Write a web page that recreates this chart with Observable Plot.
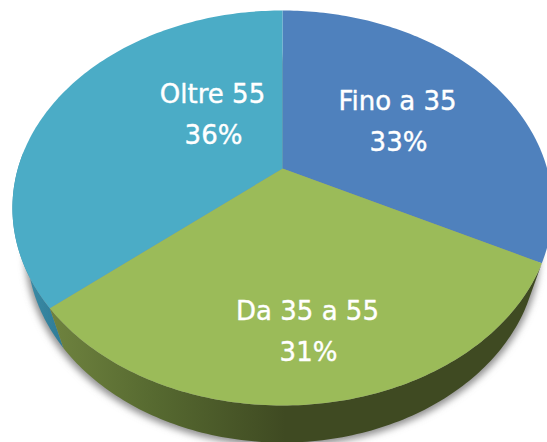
<!DOCTYPE html>
<html>
<head>
<meta charset="utf-8">
<style>html,body{margin:0;padding:0;background:#fff}svg{display:block}</style>
<script src="https://cdn.jsdelivr.net/npm/d3@7"></script>
<script src="https://cdn.jsdelivr.net/npm/@observablehq/plot@0.6"></script>
</head>
<body>
<div id="chart"></div>
<script>
const categories = ["Fino a 35", "Da 35 a 55", "Oltre 55"];
const shares = [32.5, 31.4, 36.1];
const shareLabels = ["33%", "31%", "36%"];
const colors = ["#4f81bd", "#9bbb59", "#4bacc6"];

// Perspective view of the tilted disc
const view = {cx: 282, cy: 168, a: 264.6, b: 189.6, k: 0.2, baseW: 0.0546, baseH: 44.6};
function project(deg, base = false) {
  const t = deg * Math.PI / 180, u = Math.sin(t), v = Math.cos(t);
  const w = 1 + view.k * v + (base ? view.baseW : 0);
  return {
    x: view.cx + view.a * u / w,
    y: view.cy + (-view.b * v + (base ? view.baseH : 0)) / w
  };
}
const arc = (a0, a1, base) => d3.range(0, 121).map(i => project(a0 + (a1 - a0) * i / 120, base));

const total = d3.sum(shares);
let acc = 0;
const slices = categories.map((category, i) => {
  const a0 = acc / total * 360; acc += shares[i];
  return {category, a0, a1: acc / total * 360};
});
const top3d = slices.flatMap(s => [{x: view.cx, y: view.cy}, ...arc(s.a0, s.a1, false)].map(p => ({...p, category: s.category})));
const wall = (a0, a1) => [...arc(a0, a1, false), ...arc(a1, a0, true)];
const green = slices[1], teal = slices[2];
const base = arc(0, 360, true);

const defs = () => {
  const d = d3.create("svg:defs");
  const g1 = d.append("linearGradient").attr("id", "wallGreen").attr("gradientUnits", "userSpaceOnUse")
    .attr("x1", 50).attr("x2", 285).attr("y1", 0).attr("y2", 0);
  g1.append("stop").attr("offset", 0).attr("stop-color", "#6f833f");
  g1.append("stop").attr("offset", 0.45).attr("stop-color", "#566930");
  g1.append("stop").attr("offset", 1).attr("stop-color", "#3f4a22");
  const g2 = d.append("linearGradient").attr("id", "wallTeal").attr("gradientUnits", "userSpaceOnUse")
    .attr("x1", 30).attr("x2", 65).attr("y1", 0).attr("y2", 0);
  g2.append("stop").attr("offset", 0).attr("stop-color", "#3a8aa5");
  g2.append("stop").attr("offset", 1).attr("stop-color", "#2d7a95");
  d.append("filter").attr("id", "blur").attr("x", "-10%").attr("y", "-10%").attr("width", "120%").attr("height", "120%")
    .append("feGaussianBlur").attr("stdDeviation", 3.5);
  return d.node();
};

const labelX = [397, 307, 212];
const labelY = [101, 311, 94];
const labels = categories.map((c, i) => ({text: c, x: labelX[i], y: labelY[i]}));
const pcts = shareLabels.map((c, i) => ({text: c, x: labelX[i] + 1, y: labelY[i] + 41}));
const font = {fontFamily: "DejaVu Sans", fontSize: 26, fill: "white", textAnchor: "middle", stroke: "white", strokeWidth: 0.4};

const plot = Plot.plot({
  width: 547, height: 442, margin: 0,
  x: {domain: [0, 547], range: [0, 547], axis: null},
  y: {domain: [0, 442], range: [0, 442], axis: null},
  color: {domain: categories, range: colors},
  style: {background: "white"},
  marks: [
    defs,
    Plot.line(base, {x: d => view.cx + (d.x - view.cx) * 1.008, y: d => d.y + 4, fill: "#909090", stroke: "none"}),
    Plot.line(wall(teal.a0, 275), {x: "x", y: "y", fill: "url(#wallTeal)", stroke: "none"}),
    Plot.line(wall(green.a0, green.a1), {x: "x", y: "y", fill: "url(#wallGreen)", stroke: "none"}),
    Plot.line(top3d, {x: "x", y: "y", z: "category", fill: "category", stroke: "none"}),
    Plot.text(labels, {x: "x", y: "y", text: "text", ...font}),
    Plot.text(pcts, {x: "x", y: "y", text: "text", ...font})
  ]
});
const sh = plot.querySelector('g[aria-label="line"]');
if (sh) sh.setAttribute("filter", "url(#blur)");
document.getElementById("chart").appendChild(plot);
</script>
</body>
</html>
